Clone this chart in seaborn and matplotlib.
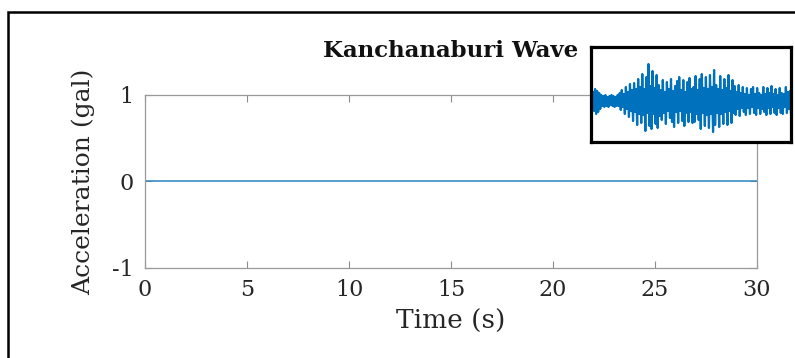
import numpy as np
import pandas as pd
import matplotlib
matplotlib.use("Agg")
import matplotlib.pyplot as plt
from matplotlib.patches import Rectangle
import seaborn as sns

# ---- data ----
title = "Kanchanaburi Wave"
x_label = "Time (s)"
y_label = "Acceleration (gal)"
x_ticks = [0, 5, 10, 15, 20, 25, 30]
y_ticks = [-1, 0, 1]

# main trace (flat at this scale)
main_time = [0, 30]
main_acc = [0.0, 0.0]

# inset waveform, positive and negative peaks
inset_pos_peaks = [5, 9, 12, 10, 8,
                   6, 5, 6, 4, 5, 6, 5, 4, 6,
                   8, 11, 7, 14, 9, 17, 11, 18, 12, 22,
                   14, 27, 12, 24, 37, 15, 30, 13, 26, 16,
                   11, 21, 9, 19, 12, 22, 10, 15, 20, 24, 11, 21, 9, 19, 23, 12,
                   14, 25, 11, 22, 27, 13, 24, 12, 26, 14, 31, 16, 12, 25, 11, 22, 13, 26, 10, 21,
                   15, 9, 16, 8, 14, 7, 13, 6, 12, 14, 7, 13, 8, 6, 14, 7, 13, 8, 15, 7,
                   12, 6, 13, 8, 7, 14, 9, 10]
inset_neg_peaks = [6, 10, 13, 11, 8,
                   5, 6, 5, 6, 4, 5, 6, 5, 5,
                   9, 6, 13, 8, 16, 10, 20, 11, 24, 13,
                   22, 14, 30, 12, 25, 28, 13, 23, 27, 15,
                   19, 12, 23, 10, 17, 21, 26, 11, 22, 10, 20, 25, 12, 21, 11, 22,
                   21, 13, 19, 28, 12, 25, 14, 27, 13, 31, 24, 12, 26, 13, 23, 11, 24, 10, 22, 12,
                   14, 8, 15, 7, 11, 14, 7, 13, 6, 12, 14, 7, 13, 8, 11, 14, 7, 13, 6, 12,
                   14, 7, 12, 13, 6, 12, 8, 13]

inset_vals = []
for p, n in zip(inset_pos_peaks, inset_neg_peaks):
    inset_vals.extend([p, -n])
inset_df = pd.DataFrame({"t": np.arange(len(inset_vals)) * 0.15, "a": inset_vals})
main_df = pd.DataFrame({"t": main_time, "a": main_acc})

# ---- style ----
sns.set_theme(style="white")
plt.rcParams["font.family"] = ["DejaVu Serif"]
plt.rcParams["mathtext.fontset"] = "dejavuserif"
plt.rcParams["axes.unicode_minus"] = False

W, H = 795, 358
fig = plt.figure(figsize=(W / 100, H / 100), dpi=100)

# main axes
ax = fig.add_axes([145 / W, 1 - 268 / H, (757 - 145) / W, (268 - 95) / H])
sns.lineplot(data=main_df, x="t", y="a", ax=ax, color="#3a8cc4", linewidth=1.2)
ax.set_xlim(0, 30)
ax.set_ylim(-1, 1)
ax.set_xticks(x_ticks)
ax.set_yticks(y_ticks)
ax.tick_params(direction="in", length=5, width=0.8, color="#8c8c8c",
               top=True, right=True, bottom=True, left=True,
               labelsize=16, labelcolor="#262626", pad=8)
for s in ax.spines.values():
    s.set_color("#9a9a9a")
    s.set_linewidth(0.9)
ax.set_xlabel(x_label, fontsize=19, color="#262626")
ax.set_ylabel(y_label, fontsize=18, color="#262626")
ax.xaxis.set_label_coords(0.5, -0.235)
ax.yaxis.set_label_coords(-0.082, 0.5)
ax.set_title(title, fontsize=16.5, fontweight="bold", color="#111111", pad=27)

# inset axes
axi = fig.add_axes([591 / W, 1 - 142 / H, 200 / W, 95 / H])
sns.lineplot(data=inset_df, x="t", y="a", ax=axi, color="#0072BD", linewidth=1.6)
axi.set_xlim(inset_df["t"].min(), inset_df["t"].max())
axi.set_ylim(-41, 54)
axi.set_xticks([])
axi.set_yticks([])
axi.set_xlabel("")
axi.set_ylabel("")
axi.set_facecolor("white")
for s in axi.spines.values():
    s.set_color("black")
    s.set_linewidth(2.3)

# outer frame (partly clipped by the figure edge)
fig.patches.append(Rectangle((8 / W, -0.2), 1.2, 1.2 - 12 / H, transform=fig.transFigure,
                             fill=False, edgecolor="black", linewidth=1.8))

fig.savefig("out.png", dpi=100)
